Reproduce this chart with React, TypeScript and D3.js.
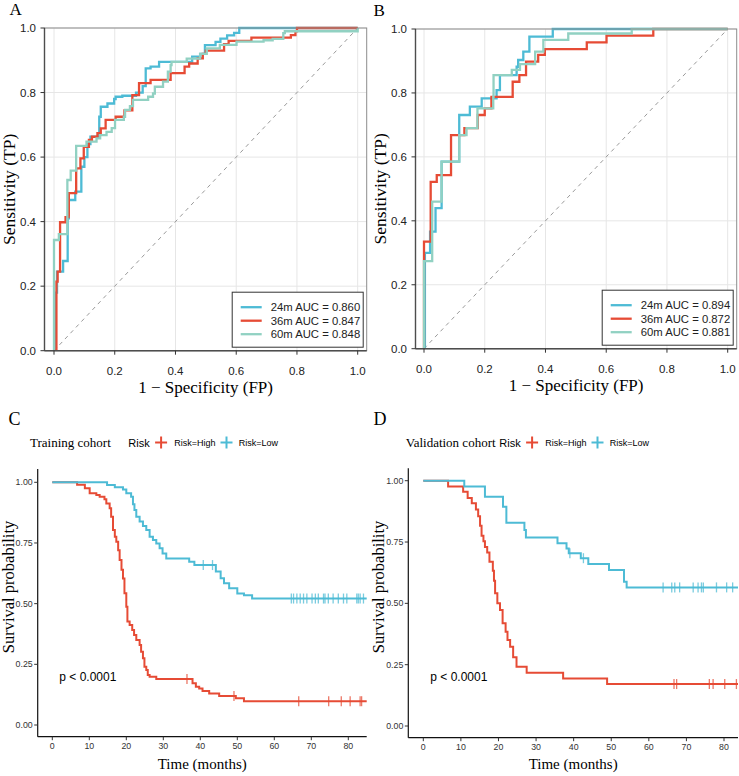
import React from "react";
import * as d3 from "d3";

type Pt = [number, number];

// ROC curves: [1 - specificity, sensitivity] after each jump
const rocTrain24: Pt[] = [
  [0, 0], [0.006, 0.18], [0.01, 0.245], [0.03, 0.278], [0.045, 0.41], [0.049, 0.467],
  [0.07, 0.493], [0.09, 0.57], [0.1, 0.6], [0.11, 0.64], [0.12, 0.663], [0.149, 0.725],
  [0.154, 0.756], [0.176, 0.766], [0.198, 0.78], [0.203, 0.787], [0.225, 0.79],
  [0.27, 0.8], [0.292, 0.82], [0.302, 0.875], [0.318, 0.88], [0.346, 0.895],
  [0.455, 0.911], [0.482, 0.92], [0.497, 0.947], [0.532, 0.957], [0.548, 0.967],
  [0.57, 0.977], [0.593, 0.985], [0.61, 1.0], [1, 1],
];
const rocTrain36: Pt[] = [
  [0, 0], [0.008, 0.214], [0.012, 0.245], [0.02, 0.358], [0.02, 0.398], [0.038, 0.414],
  [0.048, 0.42], [0.049, 0.488], [0.073, 0.565], [0.087, 0.596], [0.098, 0.632],
  [0.115, 0.653], [0.125, 0.663], [0.143, 0.674], [0.154, 0.689], [0.17, 0.715],
  [0.203, 0.725], [0.232, 0.745], [0.258, 0.792], [0.28, 0.829], [0.318, 0.839],
  [0.384, 0.86], [0.43, 0.88], [0.445, 0.89], [0.473, 0.906], [0.49, 0.92], [0.5, 0.93],
  [0.56, 0.95], [0.575, 0.96], [0.65, 0.97], [0.78, 0.978], [0.795, 0.99], [0.8, 1.0],
  [1, 1],
];
const rocTrain60: Pt[] = [
  [0, 0], [0, 0.343], [0.016, 0.361], [0.044, 0.529], [0.055, 0.558], [0.073, 0.635],
  [0.107, 0.648], [0.14, 0.658], [0.152, 0.668], [0.173, 0.678], [0.19, 0.69],
  [0.201, 0.715], [0.23, 0.725], [0.234, 0.746], [0.25, 0.758], [0.26, 0.777],
  [0.31, 0.787], [0.326, 0.797], [0.332, 0.818], [0.359, 0.834], [0.375, 0.865],
  [0.384, 0.885], [0.387, 0.895], [0.437, 0.905], [0.481, 0.92], [0.503, 0.937],
  [0.546, 0.948], [0.601, 0.958], [0.69, 0.962], [0.72, 0.966], [0.755, 0.984],
  [0.76, 0.99], [1, 1],
];
const rocValid24: Pt[] = [
  [0, 0], [0.003, 0.3], [0.02, 0.366], [0.038, 0.44], [0.058, 0.585], [0.116, 0.731],
  [0.151, 0.757], [0.19, 0.783], [0.239, 0.809], [0.25, 0.856], [0.305, 0.882],
  [0.31, 0.903], [0.327, 0.929], [0.347, 0.976], [0.424, 1.0], [1, 1],
];
const rocValid36: Pt[] = [
  [0, 0], [0, 0.335], [0.022, 0.522], [0.042, 0.543], [0.089, 0.668], [0.133, 0.69],
  [0.177, 0.731], [0.2, 0.752], [0.222, 0.788], [0.292, 0.835], [0.314, 0.856],
  [0.336, 0.898], [0.376, 0.919], [0.398, 0.937], [0.536, 0.958], [0.601, 0.979],
  [0.755, 1.0], [1, 1],
];
const rocValid60: Pt[] = [
  [0, 0], [0, 0.274], [0.027, 0.46], [0.058, 0.585], [0.116, 0.668], [0.14, 0.69],
  [0.176, 0.752], [0.228, 0.788], [0.229, 0.856], [0.289, 0.872], [0.316, 0.89],
  [0.366, 0.929], [0.393, 0.966], [0.475, 0.986], [0.684, 1.0], [1, 1],
];

const rocTimes = ["24m", "36m", "60m"];
const rocColors = ["#4DBBD5", "#E64B35", "#91D1C2"];
const aucTraining = [0.86, 0.847, 0.848];
const aucValidation = [0.894, 0.872, 0.881];
const rocTicks = [0, 0.2, 0.4, 0.6, 0.8, 1.0];

// Kaplan-Meier curves: [time in months, survival after event]
const trainHigh: Pt[] = [
  [0, 1], [6.7, 0.99], [8.8, 0.975], [10.1, 0.955], [11.9, 0.948], [12.8, 0.94],
  [14.1, 0.93], [14.6, 0.913], [15.5, 0.893], [15.9, 0.858], [16.4, 0.803],
  [16.9, 0.776], [17.3, 0.755], [17.8, 0.72], [18.2, 0.68], [18.7, 0.64], [19.1, 0.604],
  [19.5, 0.543], [20.0, 0.487], [20.3, 0.426], [20.9, 0.412], [21.6, 0.391],
  [22.1, 0.371], [22.7, 0.35], [23.6, 0.33], [24.0, 0.302], [24.5, 0.275], [24.9, 0.24],
  [25.4, 0.227], [25.8, 0.206], [26.3, 0.199], [28.1, 0.19], [37.9, 0.172],
  [38.8, 0.158], [39.7, 0.15], [40.6, 0.14], [42.4, 0.13], [45.1, 0.12], [49.6, 0.11],
  [51.8, 0.098],
];
const trainLow: Pt[] = [
  [0, 1], [14.8, 0.989], [16.9, 0.98], [19.1, 0.97], [20.0, 0.955], [21.3, 0.94],
  [21.8, 0.91], [22.2, 0.886], [22.7, 0.858], [23.6, 0.838], [24.5, 0.82], [25.4, 0.803],
  [26.3, 0.776], [27.2, 0.762], [28.1, 0.748], [29.0, 0.728], [29.8, 0.707],
  [30.8, 0.686], [37.0, 0.673], [38.4, 0.659], [44.2, 0.632], [45.5, 0.605],
  [46.4, 0.584], [47.8, 0.563], [50.0, 0.542], [51.8, 0.535], [54.0, 0.521],
];
const trainHighCensor = [36.4, 49.1, 66.6, 74.7, 78.1, 80.5, 83.2, 83.6];
const trainLowCensor = [
  40.8, 43.3, 64.6, 65.2, 66.1, 67.0, 67.9, 68.8, 70.2, 71.1, 71.9, 73.3, 73.7, 74.6,
  75.9, 77.3, 78.7, 79.6, 82.3, 82.7, 83.2, 84.1,
];

const validHigh: Pt[] = [
  [0, 1], [6.6, 0.976], [10.6, 0.955], [11.8, 0.929], [12.9, 0.908], [14.0, 0.883],
  [14.6, 0.855], [15.1, 0.816], [15.5, 0.776], [16.0, 0.753], [16.4, 0.73], [17.0, 0.707],
  [17.6, 0.67], [18.5, 0.633], [18.8, 0.592], [19.1, 0.541], [19.7, 0.5], [20.4, 0.473],
  [21.1, 0.419], [21.9, 0.384], [22.4, 0.351], [23.1, 0.323], [23.9, 0.28],
  [24.8, 0.242], [27.5, 0.217], [37.2, 0.194], [48.9, 0.171],
];
const validLow: Pt[] = [
  [0, 1], [10.9, 0.976], [16.4, 0.935], [21.2, 0.894], [22.1, 0.829], [26.9, 0.799],
  [27.3, 0.768], [35.7, 0.745], [38.1, 0.724], [38.7, 0.704], [41.9, 0.684],
  [43.9, 0.66], [49.4, 0.636], [53.4, 0.588], [54.1, 0.565],
];
const validHighCensor = [66.7, 67.4, 76.1, 77.1, 80.2, 83.3];
const validLowCensor = [39.0, 42.6, 63.8, 66.1, 66.9, 68.2, 71.8, 73.1, 74.0, 74.5, 78.0, 80.7, 82.3];

const kmTimeTicks = [0, 10, 20, 30, 40, 50, 60, 70, 80];
const kmProbTicks = [0, 0.25, 0.5, 0.75, 1.0];
const riskLabels = ["Risk=High", "Risk=Low"];
const riskColors = ["#E64B35", "#4DBBD5"];

const SANS = "'Liberation Sans', Arial, sans-serif";
const SERIF = "'Liberation Serif', 'Times New Roman', serif";

type RocBox = {
  left: number; right: number; top: number; bottom: number; zeroX: number; oneX: number;
};

function RocPanel({ box, curves, aucs, letter, letterX, letterY, id }: {
  box: RocBox; curves: Pt[][]; aucs: number[]; letter: string; letterX: number; letterY: number; id: string;
}) {
  const x = d3.scaleLinear().domain([0, 1]).range([box.zeroX, box.oneX]);
  const y = d3.scaleLinear().domain([0, 1]).range([box.bottom, box.top]);
  const line = d3.line<Pt>().x((d) => x(d[0])).y((d) => y(d[1])).curve(d3.curveStepAfter);
  const fmt = d3.format(".1f");
  const aucFmt = d3.format(".3f");
  const legW = 131, legH = 55;
  const legX = box.right - 3.5 - legW;
  const legY = box.bottom - 3.5 - legH;
  const midX = (box.left + box.right) / 2;
  const midY = (box.top + box.bottom) / 2;
  return (
    <g>
      <text x={letterX} y={letterY} fontFamily={SERIF} fontSize={17} fill="#000">{letter}</text>
      <defs>
        <clipPath id={id}>
          <rect x={box.left} y={box.top - 3} width={box.right - box.left} height={box.bottom - box.top + 3} />
        </clipPath>
      </defs>
      {rocTicks.map((t) => (
        <line key={"gx" + t} x1={x(t)} x2={x(t)} y1={box.top} y2={box.bottom} stroke="#e6e6e6" strokeWidth={1} />
      ))}
      {rocTicks.map((t) => (
        <line key={"gy" + t} x1={box.left} x2={box.right} y1={y(t)} y2={y(t)} stroke="#e6e6e6" strokeWidth={1} />
      ))}
      <line x1={x(0)} y1={y(0)} x2={x(1)} y2={y(1)} stroke="#9a9a9a" strokeWidth={1} strokeDasharray="4,4" />
      <g clipPath={`url(#${id})`}>
        {curves.map((c, i) => (
          <path key={i} d={line(c) || ""} fill="none" stroke={rocColors[i]} strokeWidth={2.3} />
        ))}
      </g>
      <rect x={box.left} y={box.top} width={box.right - box.left} height={box.bottom - box.top}
        fill="none" stroke="#8c8c8c" strokeWidth={1} />
      <line x1={box.left} x2={box.left} y1={box.top} y2={box.bottom} stroke="#4d4d4d" strokeWidth={1.4} />
      <line x1={box.left} x2={box.right} y1={box.bottom} y2={box.bottom} stroke="#4d4d4d" strokeWidth={1.4} />
      {rocTicks.map((t) => (
        <g key={"ty" + t}>
          <line x1={box.left - 4} x2={box.left} y1={y(t)} y2={y(t)} stroke="#333" strokeWidth={1} />
          <text x={box.left - 8.5} y={y(t) + 4} textAnchor="end" fontFamily={SANS} fontSize={11.5} fill="#222">{fmt(t)}</text>
        </g>
      ))}
      {rocTicks.map((t) => (
        <g key={"tx" + t}>
          <line x1={x(t)} x2={x(t)} y1={box.bottom} y2={box.bottom + 4} stroke="#333" strokeWidth={1} />
          <text x={x(t)} y={box.bottom + 24} textAnchor="middle" fontFamily={SANS} fontSize={11.5} fill="#222">{fmt(t)}</text>
        </g>
      ))}
      <text x={midX} y={box.bottom + 42} textAnchor="middle" fontFamily={SERIF} fontSize={17} fill="#000">
        1 − Specificity (FP)
      </text>
      <text transform={`translate(${box.left - 29.5},${midY}) rotate(-90)`} textAnchor="middle"
        fontFamily={SERIF} fontSize={17.5} fill="#000">Sensitivity (TP)</text>
      <rect x={legX} y={legY} width={legW} height={legH} fill="#fff" stroke="#333" strokeWidth={1} />
      {rocTimes.map((lab, i) => (
        <g key={lab}>
          <line x1={legX + 8.5} x2={legX + 29.5} y1={legY + 15 + i * 13.5} y2={legY + 15 + i * 13.5}
            stroke={rocColors[i]} strokeWidth={2.3} />
          <text x={legX + 38.5} y={legY + 19 + i * 13.5} fontFamily={SANS} fontSize={11.3} fill="#222">
            {`${lab} AUC = ${aucFmt(aucs[i])}`}
          </text>
        </g>
      ))}
    </g>
  );
}

type KmBox = {
  left: number; right: number; top: number; bottom: number;
  zeroX: number; eightyX: number; zeroY: number; oneY: number;
};

function stepValue(steps: Pt[], t: number) {
  const i = d3.bisectRight(steps.map((d) => d[0]), t) - 1;
  return steps[Math.max(0, i)][1];
}

function KmPanel({ box, groups, censors, title, titleX, legendX, letter, letterX, id }: {
  box: KmBox; groups: Pt[][]; censors: number[][]; title: string; titleX: number;
  legendX: number; letter: string; letterX: number; id: string;
}) {
  const x = d3.scaleLinear().domain([0, 80]).range([box.zeroX, box.eightyX]);
  const y = d3.scaleLinear().domain([0, 1]).range([box.zeroY, box.oneY]);
  const tEnd = x.invert(box.right + 5);
  const line = d3.line<Pt>().x((d) => x(d[0])).y((d) => y(d[1])).curve(d3.curveStepAfter);
  const probFmt = d3.format(".2f");
  const legY = 442.5;
  const plus = (cx: number, cy: number, color: string, key: string) => (
    <g key={key}>
      <line x1={cx - 6} x2={cx + 6} y1={cy} y2={cy} stroke={color} strokeWidth={2} />
      <line x1={cx} x2={cx} y1={cy - 6} y2={cy + 6} stroke={color} strokeWidth={2} />
    </g>
  );
  return (
    <g>
      <text x={letterX} y={425} fontFamily={SERIF} fontSize={18} fill="#000">{letter}</text>
      <text x={titleX} y={446.5} fontFamily={SERIF} fontSize={13} fill="#000">{title}</text>
      <text x={legendX} y={447} fontFamily={SANS} fontSize={11} fill="#000">Risk</text>
      {plus(legendX + 32.8, legY, riskColors[0], "p0")}
      <text x={legendX + 46} y={446} fontFamily={SANS} fontSize={9} fill="#000">{riskLabels[0]}</text>
      {plus(legendX + 98.2, legY, riskColors[1], "p1")}
      <text x={legendX + 110.5} y={446} fontFamily={SANS} fontSize={9} fill="#000">{riskLabels[1]}</text>
      <defs>
        <clipPath id={id}>
          <rect x={box.left} y={box.top - 10} width={box.right - box.left} height={box.bottom - box.top + 10} />
        </clipPath>
      </defs>
      <g clipPath={`url(#${id})`}>
        {groups.map((g, i) => {
          const pts: Pt[] = [...g, [tEnd, g[g.length - 1][1]]];
          return <path key={i} d={line(pts) || ""} fill="none" stroke={riskColors[i]} strokeWidth={2} />;
        })}
        {censors.map((cs, i) =>
          cs.map((t, j) => {
            const cx = x(t), cy = y(stepValue(groups[i], t));
            return (
              <g key={`c${i}-${j}`} opacity={0.75}>
                <line x1={cx} x2={cx} y1={cy - 5} y2={cy + 5} stroke={riskColors[i]} strokeWidth={1.3} />
              </g>
            );
          })
        )}
      </g>
      <line x1={box.left} x2={box.left} y1={box.top} y2={box.bottom} stroke="#111" strokeWidth={1.2} />
      <line x1={box.left} x2={box.right} y1={box.bottom} y2={box.bottom} stroke="#111" strokeWidth={1.2} />
      {kmProbTicks.map((t) => (
        <g key={"y" + t}>
          <line x1={box.left - 3.5} x2={box.left} y1={y(t)} y2={y(t)} stroke="#333" strokeWidth={1} />
          <text x={box.left - 5} y={y(t) + 3} textAnchor="end" fontFamily={SANS} fontSize={8.8} fill="#333">{probFmt(t)}</text>
        </g>
      ))}
      {kmTimeTicks.map((t) => (
        <g key={"x" + t}>
          <line x1={x(t)} x2={x(t)} y1={box.bottom} y2={box.bottom + 3.5} stroke="#333" strokeWidth={1} />
          <text x={x(t)} y={box.bottom + 12} textAnchor="middle" fontFamily={SANS} fontSize={8.8} fill="#333">{t}</text>
        </g>
      ))}
      <text x={(box.left + box.right) / 2 + 0} y={769} textAnchor="middle" fontFamily={SERIF} fontSize={15} fill="#000">
        Time (months)
      </text>
      <text transform={`translate(${box.left - 24},587) rotate(-90)`} textAnchor="middle"
        fontFamily={SERIF} fontSize={16.5} fill="#000">Survival probability</text>
      <text x={box.zeroX + 7} y={681} fontFamily={SANS} fontSize={12} fill="#000">p &lt; 0.0001</text>
    </g>
  );
}

export default function App() {
  const boxA: RocBox = { left: 44.5, right: 366.7, top: 28, bottom: 350.7, zeroX: 54, oneX: 357.7 };
  const boxB: RocBox = { left: 415.5, right: 736.7, top: 29, bottom: 348.7, zeroX: 424, oneX: 727.7 };
  const boxC: KmBox = { left: 37.7, right: 366.7, top: 469, bottom: 736.7, zeroX: 52.3, eightyX: 348.3, zeroY: 725, oneY: 482.3 };
  const boxD: KmBox = { left: 408.3, right: 738, top: 468.3, bottom: 737.7, zeroX: 423.3, eightyX: 724, zeroY: 726, oneY: 480.7 };
  return (
    <svg width={739} height={776} viewBox="0 0 739 776"
      style={{ position: "absolute", left: 0, top: 0, background: "#fff", display: "block" }}>
      <rect x={0} y={0} width={739} height={776} fill="#fff" />
      <RocPanel box={boxA} curves={[rocTrain24, rocTrain36, rocTrain60]} aucs={aucTraining}
        letter="A" letterX={9.5} letterY={15} id="clipA" />
      <RocPanel box={boxB} curves={[rocValid24, rocValid36, rocValid60]} aucs={aucValidation}
        letter="B" letterX={373.5} letterY={15.5} id="clipB" />
      <KmPanel box={boxC} groups={[trainHigh, trainLow]} censors={[trainHighCensor, trainLowCensor]}
        title="Training cohort" titleX={30} legendX={128.3} letter="C" letterX={8.5} id="clipC" />
      <KmPanel box={boxD} groups={[validHigh, validLow]} censors={[validHighCensor, validLowCensor]}
        title="Validation cohort" titleX={405.7} legendX={499.3} letter="D" letterX={373.5} id="clipD" />
    </svg>
  );
}
